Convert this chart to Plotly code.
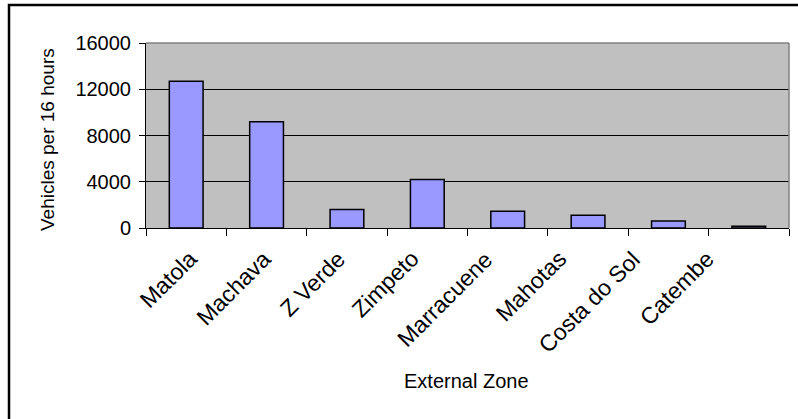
import plotly.graph_objects as go

# External zone traffic counts
zones = ["Matola", "Machava", "Z Verde", "Zimpeto", "Marracuene",
         "Mahotas", "Costa do Sol", "Catembe"]
vehicles = [12700, 9200, 1600, 4200, 1450, 1100, 600, 150]

y_ticks = [0, 4000, 8000, 12000, 16000]

W, H = 798, 419
L, R, T, B = 146, 789, 43, 228  # plot area in pixels


def px(x):
    return (x - L) / (R - L)


def py(y):
    return (B - y) / (B - T)


FONT = "Liberation Sans, Arial, sans-serif"

fig = go.Figure(
    go.Bar(
        x=zones,
        y=vehicles,
        marker=dict(color="#9999FF", line=dict(color="black", width=1.5)),
    )
)

fig.update_layout(
    width=W,
    height=H,
    margin=dict(l=L, r=W - R, t=T, b=H - B, pad=0),
    paper_bgcolor="white",
    plot_bgcolor="#C0C0C0",
    bargap=0.58,
    showlegend=False,
    font=dict(family=FONT, size=20, color="black"),
)

fig.update_yaxes(
    range=[0, 16000],
    tickvals=y_ticks,
    ticktext=[str(v) for v in y_ticks],
    ticks="outside",
    ticklen=6,
    tickcolor="black",
    tickwidth=1,
    ticklabelstandoff=4,
    showline=True,
    linecolor="black",
    linewidth=1,
    showgrid=True,
    gridcolor="black",
    gridwidth=1,
    zeroline=False,
    tickfont=dict(size=20),
)

fig.update_xaxes(
    range=[-0.5, len(zones) - 0.5],
    autorange=False,
    ticks="outside",
    tickson="boundaries",
    ticklen=7,
    tickcolor="black",
    tickwidth=1,
    showline=True,
    linecolor="black",
    linewidth=1,
    showgrid=False,
    showticklabels=False,
)

# Category labels, slanted, packed slightly tighter than the bar spacing
for i, name in enumerate(zones):
    fig.add_annotation(
        text=name, xref="x", yref="paper", x=name, y=0,
        xshift=19 - 6.6 * i, yshift=-15,
        textangle=-45, showarrow=False,
        xanchor="right", yanchor="top", font=dict(size=23),
    )

shapes = [
    # grey plot-area frame on top and right
    dict(type="line", xref="paper", yref="paper", x0=0, x1=1, y0=1, y1=1,
         line=dict(color="#808080", width=1.5)),
    dict(type="line", xref="paper", yref="paper", x0=1, x1=1, y0=0, y1=1,
         line=dict(color="#808080", width=1.5)),
    # outer chart border
    dict(type="rect", xref="paper", yref="paper",
         x0=px(9), x1=px(812), y0=py(5), y1=py(440),
         line=dict(color="black", width=2.5), layer="above"),
]
fig.update_layout(shapes=shapes)

fig.add_annotation(
    text="Vehicles per 16 hours", xref="paper", yref="paper",
    x=px(47), y=py(140), textangle=-90, showarrow=False,
    xanchor="center", yanchor="middle", font=dict(size=19),
)
fig.add_annotation(
    text="External Zone", xref="paper", yref="paper",
    x=px(466), y=py(381), showarrow=False,
    xanchor="center", yanchor="middle", font=dict(size=20),
)

fig.write_html("out.html")
